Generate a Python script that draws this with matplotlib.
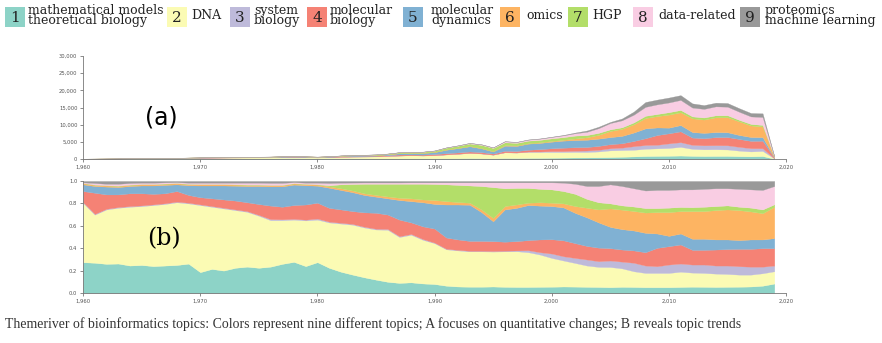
import numpy as np
import matplotlib
matplotlib.use("Agg")
import matplotlib.pyplot as plt
from matplotlib.patches import Rectangle
from matplotlib.ticker import FuncFormatter

years = np.arange(1960, 2020)

# total number of papers per year (panel a)
total = [100, 120, 150, 180, 220, 260, 300, 330, 370, 420,
         480, 520, 560, 600, 640, 680, 720, 800, 870, 780,
         700, 820, 1050, 1150, 1250, 1350, 1600, 2000, 2100, 2150,
         2500, 3400, 4000, 4700, 4300, 3400, 5200, 5000, 5700, 6000,
         6500, 7000, 7700, 8300, 9400, 10800, 11800, 13800, 16600, 17300,
         17900, 18600, 16200, 15700, 16400, 16300, 14800, 13400, 13300, 800]

# upper edge of each topic in the normalised river (panel b), read per year
edge_math = [.275, .270, .260, .263, .245, .250, .240, .245, .250, .262,
             .186, .215, .200, .225, .235, .225, .235, .260, .278, .240,
             .275, .225, .190, .164, .140, .119, .100, .090, .095, .085,
             .080, .065, .058, .056, .056, .058, .055, .054, .054, .055,
             .056, .058, .057, .055, .054, .052, .055, .054, .052, .052,
             .052, .054, .056, .055, .054, .055, .056, .058, .065, .084]
edge_dna = [.805, .700, .746, .761, .770, .776, .785, .795, .810, .800,
            .785, .770, .755, .740, .725, .690, .650, .650, .655, .648,
            .655, .630, .620, .610, .585, .567, .565, .500, .520, .475,
            .445, .390, .380, .372, .372, .370, .372, .373, .364, .343,
            .313, .290, .268, .245, .233, .232, .220, .194, .179, .179,
            .179, .190, .182, .179, .173, .170, .164, .164, .176, .194]
edge_system = [.811, .706, .752, .767, .776, .782, .791, .801, .816, .806,
               .791, .776, .761, .746, .731, .697, .660, .658, .662, .655,
               .665, .637, .627, .617, .592, .574, .572, .507, .527, .482,
               .450, .395, .385, .377, .377, .375, .378, .380, .382, .364,
               .352, .328, .313, .299, .284, .290, .280, .270, .245, .239,
               .254, .263, .254, .254, .245, .245, .239, .235, .235, .245]
edge_molbio = [.910, .895, .880, .880, .890, .890, .885, .890, .910, .875,
               .855, .845, .835, .825, .810, .794, .780, .770, .785, .790,
               .806, .760, .746, .731, .720, .716, .700, .655, .630, .595,
               .575, .495, .478, .465, .465, .463, .458, .463, .472, .478,
               .480, .470, .445, .420, .405, .400, .388, .380, .364, .403,
               .418, .433, .385, .385, .388, .392, .394, .394, .400, .400]
edge_moldyn = [.970, .955, .950, .946, .955, .960, .960, .965, .970, .962,
               .960, .960, .960, .958, .955, .955, .952, .952, .968, .962,
               .958, .940, .920, .900, .875, .860, .845, .830, .820, .810,
               .795, .790, .790, .788, .722, .640, .746, .760, .785, .780,
               .776, .764, .715, .675, .630, .590, .570, .558, .537, .531,
               .510, .531, .484, .484, .478, .478, .472, .478, .478, .490]
edge_omics = [.980, .965, .960, .956, .965, .970, .970, .975, .980, .972,
              .970, .970, .970, .968, .965, .965, .962, .962, .978, .972,
              .968, .952, .935, .915, .890, .875, .862, .850, .845, .835,
              .830, .820, .812, .806, .746, .670, .776, .790, .806, .810,
              .806, .800, .776, .761, .746, .755, .744, .732, .718, .722,
              .722, .731, .731, .731, .740, .746, .740, .728, .712, .770]
edge_hgp = [.983, .968, .963, .959, .968, .973, .973, .978, .983, .975,
            .973, .973, .973, .971, .968, .968, .965, .965, .981, .975,
            .971, .962, .970, .973, .975, .975, .975, .975, .975, .975,
            .973, .970, .965, .960, .955, .945, .935, .938, .938, .930,
            .925, .910, .885, .840, .810, .800, .782, .772, .758, .758,
            .762, .768, .766, .770, .776, .782, .770, .762, .746, .792]
edge_data = [.988, .982, .975, .975, .982, .985, .985, .988, .990, .985,
             .985, .985, .985, .985, .985, .985, .983, .983, .990, .985,
             .985, .982, .985, .986, .987, .987, .987, .987, .988, .988,
             .988, .988, .988, .988, .988, .988, .988, .988, .988, .988,
             .988, .985, .975, .955, .955, .970, .955, .935, .915, .920,
             .920, .925, .925, .930, .935, .935, .930, .925, .920, .955]

topic_labels = ["mathematical models\ntheoretical biology", "DNA", "system\nbiology",
                "molecular\nbiology", "molecular\ndynamics", "omics", "HGP",
                "data-related", "proteomics\nmachine learning"]
colors = ["#8dd3c7", "#fbfbb4", "#bebada", "#f58275", "#80b1d3",
          "#fdb462", "#b3de69", "#f9cde3", "#999999"]

edges = np.vstack([np.zeros(len(years)), edge_math, edge_dna, edge_system, edge_molbio,
                   edge_moldyn, edge_omics, edge_hgp, edge_data, np.ones(len(years))])
shares = np.diff(edges, axis=0)
counts = shares * np.array(total)

W, H = 882, 343
fig = plt.figure(figsize=(W / 100, H / 100), dpi=100)


def px_axes(x0, y_top, x1, y_bot):
    return fig.add_axes([x0 / W, 1 - y_bot / H, (x1 - x0) / W, (y_bot - y_top) / H])


def style(ax):
    for s in ["top", "right"]:
        ax.spines[s].set_visible(False)
    for s in ["left", "bottom"]:
        ax.spines[s].set_color("#777777")
        ax.spines[s].set_linewidth(0.6)
    ax.tick_params(length=2.5, width=0.6, color="#777777", labelsize=3.8,
                   labelcolor="#555555", pad=1.5)
    ax.set_xlim(1960, 2020)
    ax.set_xticks(range(1960, 2021, 10))
    ax.xaxis.set_major_formatter(FuncFormatter(lambda v, p: f"{int(v):,}"))


# panel (a): absolute numbers
ax1 = px_axes(83, 56, 786, 159)
ax1.stackplot(years, *counts, colors=colors, linewidth=0.2, edgecolor="face")
ax1.set_ylim(0, 30000)
ax1.set_yticks(range(0, 30001, 5000))
ax1.yaxis.set_major_formatter(FuncFormatter(lambda v, p: f"{int(v):,}"))
style(ax1)
fig.text(161 / W, 1 - 117 / H, "(a)", fontsize=17, ha="center", va="center",
         family="DejaVu Sans")

# panel (b): proportions
ax2 = px_axes(83, 181, 786, 293)
ax2.stackplot(years, *shares, colors=colors, linewidth=0.2, edgecolor="face")
ax2.set_ylim(0, 1)
ax2.set_yticks(np.arange(0, 1.01, 0.2))
ax2.yaxis.set_major_formatter(FuncFormatter(lambda v, p: f"{v:.1f}"))
style(ax2)
fig.text(164 / W, 1 - 239 / H, "(b)", fontsize=17, ha="center", va="center",
         family="DejaVu Serif")

# legend row
sq_x = [5, 167, 230, 307, 403, 500, 568, 633, 740]
lab_x = [28, 191, 254, 330, 431, 526, 592, 658, 765]
for i in range(9):
    fig.patches.append(Rectangle((sq_x[i] / W, 1 - 27 / H), 20 / W, 20 / H,
                                 transform=fig.transFigure, facecolor=colors[i],
                                 edgecolor="none"))
    fig.text((sq_x[i] + 10) / W, 1 - 17.5 / H, str(i + 1), fontsize=11,
             ha="center", va="center", family="DejaVu Serif", color="#222222")
    fig.text(lab_x[i] / W, 1 - 15.5 / H, topic_labels[i], fontsize=9,
             ha="left", va="center", family="DejaVu Serif", color="#222222",
             linespacing=0.78)

fig.text(5 / W, 1 - 324 / H,
         "Themeriver of bioinformatics topics: Colors represent nine different topics; "
         "A focuses on quantitative changes; B reveals topic trends",
         fontsize=9.9, ha="left", va="center", family="Liberation Serif",
         color="#333333")

fig.savefig("out.png", dpi=100)
